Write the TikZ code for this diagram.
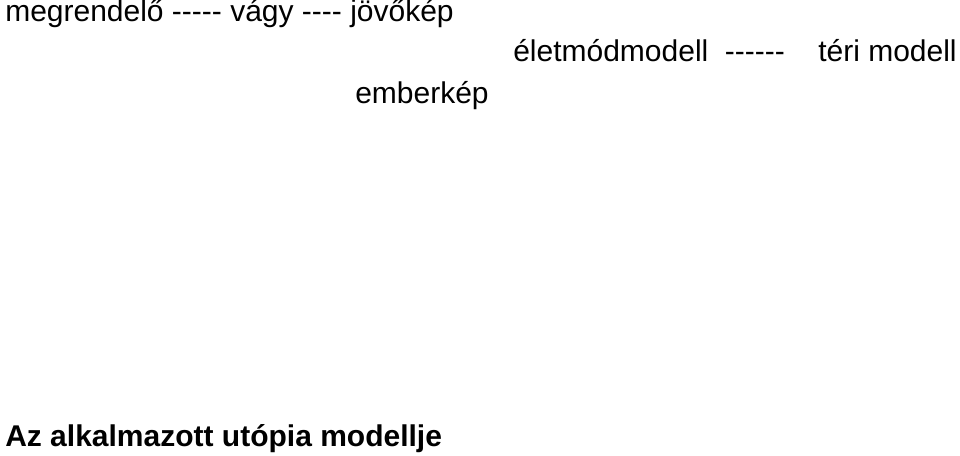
\documentclass[tikz,border=0pt]{standalone}
\usepackage{fontspec}
\setmainfont[Ligatures=TeXOff]{Liberation Sans}
\tikzset{label text/.style={anchor=base west,inner sep=0pt,font=\fontsize{22.5}{26}\selectfont}}
\begin{document}
\begin{tikzpicture}[x=0.75pt,y=-0.75pt]
  \useasboundingbox (0,0) rectangle (960,456);
  \node[label text] (jovokep) at (5,22) {megrendelő ----- vágy ---- jövőkép};
  \node[label text] (eletmod) at (513,62) {életmódmodell\ \ ------\ \ \ \ téri modell};
  \node[label text] (emberkep) at (355,104) {emberkép};
  \node[label text,font=\bfseries\fontsize{22.5}{26}\selectfont] (cim) at (5,446) {Az alkalmazott utópia modellje};
\end{tikzpicture}
\end{document}
